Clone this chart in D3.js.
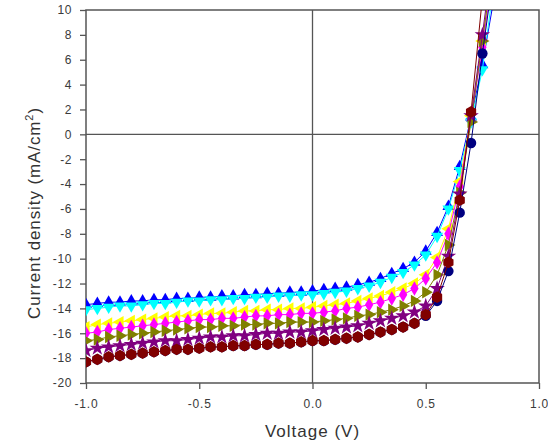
<!DOCTYPE html>
<html>
<head>
<meta charset="utf-8">
<script src="https://cdn.jsdelivr.net/npm/d3@7"></script>
<style>
  body { margin: 0; background: #fff; }
  svg { display: block; font-family: "Liberation Sans", Arial, sans-serif; }
</style>
</head>
<body>
<svg id="chart" width="548" height="443"></svg>
<script>
const voltage = [-1.0, -0.95, -0.9, -0.85, -0.8, -0.75, -0.7, -0.65, -0.6, -0.55, -0.5,
  -0.45, -0.4, -0.35, -0.3, -0.25, -0.2, -0.15, -0.1, -0.05, 0.0,
  0.05, 0.1, 0.15, 0.2, 0.25, 0.3, 0.35, 0.4, 0.45, 0.5, 0.55, 0.6, 0.65, 0.7, 0.75, 0.8];

const blueUp = [-13.7, -13.6, -13.5, -13.5, -13.4, -13.4, -13.3, -13.3, -13.2, -13.2, -13.1,
  -13.1, -13.0, -13.0, -12.9, -12.9, -12.8, -12.8, -12.7, -12.7, -12.6,
  -12.5, -12.4, -12.3, -12.1, -11.9, -11.6, -11.2, -10.8, -10.3, -9.4, -7.9, -5.8, -2.6, 1.4, 5.6, 10.8];
const cyanDown = [-14.1, -14.0, -13.9, -13.8, -13.8, -13.7, -13.6, -13.6, -13.5, -13.4, -13.4,
  -13.3, -13.3, -13.2, -13.2, -13.1, -13.1, -13.0, -13.0, -12.9, -12.9,
  -12.8, -12.7, -12.6, -12.4, -12.2, -11.9, -11.5, -11.1, -10.5, -9.7, -8.2, -6.0, -2.9, 1.0, 5.2, 12.0];
const yellowLeft = [-15.5, -15.3, -15.2, -15.1, -15.0, -14.9, -14.8, -14.7, -14.6, -14.6, -14.5,
  -14.4, -14.4, -14.3, -14.2, -14.2, -14.1, -14.1, -14.0, -14.0, -13.9,
  -13.8, -13.7, -13.6, -13.4, -13.2, -13.0, -12.7, -12.4, -12.0, -11.3, -9.9, -7.6, -3.8, 1.5, 7.5, 14.0];
const magentaDiamond = [-16.0, -15.9, -15.7, -15.6, -15.5, -15.4, -15.3, -15.2, -15.1, -15.0, -14.9,
  -14.9, -14.8, -14.8, -14.7, -14.6, -14.6, -14.5, -14.5, -14.4, -14.4,
  -14.3, -14.2, -14.0, -13.9, -13.7, -13.5, -13.2, -12.9, -12.4, -11.6, -10.3, -8.0, -4.2, 1.2, 7.0, 13.5];
const oliveRight = [-16.6, -16.5, -16.3, -16.2, -16.1, -16.0, -15.9, -15.8, -15.7, -15.6, -15.5,
  -15.5, -15.4, -15.4, -15.3, -15.3, -15.2, -15.2, -15.1, -15.1, -15.1,
  -15.0, -14.9, -14.8, -14.6, -14.5, -14.3, -14.1, -13.8, -13.4, -12.7, -11.3, -8.9, -4.7, 1.0, 7.5, 14.0];
const purpleStar = [-17.4, -17.2, -17.1, -17.0, -16.9, -16.8, -16.7, -16.6, -16.6, -16.5, -16.4,
  -16.3, -16.3, -16.2, -16.2, -16.1, -16.0, -16.0, -15.9, -15.9, -15.8,
  -15.7, -15.6, -15.5, -15.4, -15.2, -15.0, -14.8, -14.6, -14.3, -13.8, -12.4, -9.8, -4.8, 1.5, 8.0, 15.0];
const navyCircle = [-18.3, -18.1, -17.9, -17.8, -17.7, -17.6, -17.5, -17.4, -17.3, -17.3, -17.2,
  -17.1, -17.1, -17.0, -17.0, -16.9, -16.9, -16.8, -16.8, -16.7, -16.6,
  -16.6, -16.5, -16.4, -16.3, -16.1, -15.9, -15.7, -15.5, -15.2, -14.6, -13.4, -11.0, -6.3, -0.7, 6.5, 13.0];
const maroonHex = [-18.3, -18.1, -17.9, -17.8, -17.7, -17.6, -17.5, -17.4, -17.3, -17.3, -17.2,
  -17.1, -17.1, -17.0, -17.0, -16.9, -16.9, -16.8, -16.8, -16.7, -16.6,
  -16.6, -16.5, -16.4, -16.3, -16.1, -15.9, -15.7, -15.5, -15.2, -14.5, -13.1, -10.3, -5.3, 1.8, 11.0, 18.0];

const xTicks = [-1.0, -0.5, 0.0, 0.5, 1.0];
const yTicks = [-20, -18, -16, -14, -12, -10, -8, -6, -4, -2, 0, 2, 4, 6, 8, 10];

const series = [
  {values: blueUp, color: "#0000ff", shape: "up"},
  {values: cyanDown, color: "#00ffff", shape: "down"},
  {values: yellowLeft, color: "#ffff00", shape: "left"},
  {values: magentaDiamond, color: "#ff00ff", shape: "diamond"},
  {values: oliveRight, color: "#808000", shape: "right"},
  {values: purpleStar, color: "#800080", shape: "star"},
  {values: navyCircle, color: "#000080", shape: "circle"},
  {values: maroonHex, color: "#800000", shape: "hex"}
];

const svg = d3.select("#chart");
const margin = {top: 10, right: 9, bottom: 60, left: 86};
const width = 548 - margin.left - margin.right;
const height = 443 - margin.top - margin.bottom;
const g = svg.append("g").attr("transform", "translate(" + margin.left + "," + margin.top + ")");

const x = d3.scaleLinear().domain([-1, 1]).range([0, width]);
const y = d3.scaleLinear().domain([-20, 10]).range([height, 0]);

const axisColor = "#555";
const hyphen = f => d => f(d).replace("\u2212", "-");

svg.append("defs").append("clipPath").attr("id", "clip")
  .append("rect").attr("width", width).attr("height", height);

const xMinor = d3.range(-1, 1.001, 0.25);
const yMinor = d3.range(-20, 10.001, 1);

const xAxis = g.append("g").attr("transform", "translate(0," + height + ")");
xAxis.call(d3.axisBottom(x).tickValues(xMinor).tickSize(4).tickFormat(""));
xAxis.call(d3.axisBottom(x).tickValues(xTicks).tickSize(6).tickPadding(10).tickFormat(hyphen(d3.format(".1f"))));
xAxis.selectAll("path").remove();
xAxis.selectAll("line").attr("stroke", axisColor).attr("stroke-width", 1.3);
xAxis.selectAll("text").attr("fill", "#3a3a3a").style("font-size", "12px").style("letter-spacing", "0.8px");

const yAxis = g.append("g");
yAxis.call(d3.axisLeft(y).tickValues(yMinor).tickSize(4).tickFormat(""));
yAxis.call(d3.axisLeft(y).tickValues(yTicks).tickSize(6).tickPadding(8).tickFormat(hyphen(d3.format("d"))));
yAxis.selectAll("path").remove();
yAxis.selectAll("line").attr("stroke", axisColor).attr("stroke-width", 1.3);
yAxis.selectAll("text").attr("fill", "#3a3a3a").style("font-size", "12px").style("letter-spacing", "0.6px");

g.append("rect").attr("width", width).attr("height", height)
  .attr("fill", "none").attr("stroke", axisColor).attr("stroke-width", 1.5);
g.append("line").attr("x1", 0).attr("x2", width).attr("y1", y(0)).attr("y2", y(0))
  .attr("stroke", axisColor).attr("stroke-width", 1.3);
g.append("line").attr("x1", x(0)).attr("x2", x(0)).attr("y1", 0).attr("y2", height)
  .attr("stroke", axisColor).attr("stroke-width", 1.3);

const hexagon = {
  draw(ctx, size) {
    const r = Math.sqrt(size / 2.598);
    for (let k = 0; k < 6; k++) {
      const a = Math.PI / 6 + k * Math.PI / 3;
      if (k === 0) ctx.moveTo(r * Math.cos(a), r * Math.sin(a));
      else ctx.lineTo(r * Math.cos(a), r * Math.sin(a));
    }
    ctx.closePath();
  }
};

const symbolFor = {
  up: d3.symbol().type(d3.symbolTriangle).size(62),
  down: d3.symbol().type(d3.symbolTriangle).size(62),
  left: d3.symbol().type(d3.symbolTriangle).size(66),
  right: d3.symbol().type(d3.symbolTriangle).size(66),
  diamond: d3.symbol().type(d3.symbolDiamond).size(60),
  star: d3.symbol().type(d3.symbolStar).size(75),
  circle: d3.symbol().type(d3.symbolCircle).size(85),
  hex: d3.symbol().type(hexagon).size(90)
};
const rotateFor = {up: 0, down: 180, left: -90, right: 90, diamond: 0, star: 0, circle: 0, hex: 0};

const plot = g.append("g").attr("clip-path", "url(#clip)");
const line = d3.line().x((d, i) => x(voltage[i])).y(d => y(d));

series.forEach(s => {
  const sg = plot.append("g");
  sg.append("path")
    .datum(s.values)
    .attr("fill", "none")
    .attr("stroke", s.color)
    .attr("stroke-width", 1)
    .attr("d", line);
  sg.selectAll("path.m")
    .data(s.values)
    .enter().append("path")
    .attr("class", "m")
    .attr("d", symbolFor[s.shape])
    .attr("fill", s.color)
    .attr("transform", (d, i) => "translate(" + x(voltage[i]) + "," + y(d) + ") rotate(" + rotateFor[s.shape] + ")");
});

svg.append("text")
  .attr("x", margin.left + x(0))
  .attr("y", 437)
  .attr("text-anchor", "middle")
  .attr("fill", "#333")
  .style("font-size", "17px")
  .style("letter-spacing", "1px")
  .text("Voltage (V)");

const yt = svg.append("text")
  .attr("transform", "translate(40," + 213 + ") rotate(-90)")
  .attr("text-anchor", "middle")
  .attr("fill", "#333")
  .style("font-size", "17px")
  .style("letter-spacing", "0.9px");
yt.append("tspan").text("Current density (mA/cm");
yt.append("tspan").attr("dy", -7).style("font-size", "11px").text("2");
yt.append("tspan").attr("dy", 7).text(")");
</script>
</body>
</html>
